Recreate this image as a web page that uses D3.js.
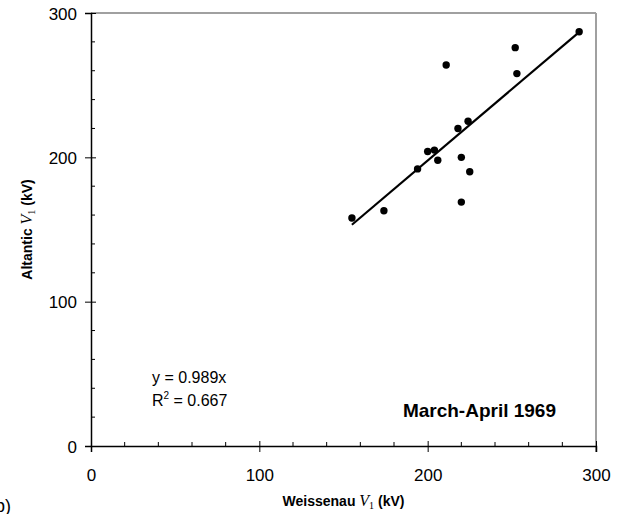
<!DOCTYPE html>
<html>
<head>
<meta charset="utf-8">
<script src="https://cdn.jsdelivr.net/npm/d3@7"></script>
<style>
  body { margin: 0; background: #fff; }
  svg { display: block; font-family: "Liberation Sans", Arial, sans-serif; }
</style>
</head>
<body>
<div id="chart"></div>
<script>
// Weissenau vs Atlantic V1, March-April 1969
const weissenau = [155, 174, 194, 200, 204, 206, 211, 218, 220, 220, 224, 225, 252, 253, 290];
const atlantic  = [158, 163, 192, 204, 205, 198, 264, 220, 200, 169, 225, 190, 276, 258, 287];
const slope = 0.989;
const rSquared = 0.667;
const tickValues = [0, 100, 200, 300];

const width = 628;
const height = 514;
const margin = { left: 91, right: 32, top: 13, bottom: 68 };

const svg = d3.select('#chart')
    .append('svg')
        .attr('width', width)
        .attr('height', height);

const x = d3.scaleLinear()
    .domain([0, 300])
    .range([margin.left, width - margin.right]);

const y = d3.scaleLinear()
    .domain([0, 300])
    .range([height - margin.bottom, margin.top]);

// grey frame on top and right
svg.append('line')
    .attr('x1', x(0)).attr('x2', x(300))
    .attr('y1', y(300)).attr('y2', y(300))
    .attr('stroke', '#a0a0a0').attr('stroke-width', 2);
svg.append('line')
    .attr('x1', x(300)).attr('x2', x(300))
    .attr('y1', y(300)).attr('y2', y(0) + 6)
    .attr('stroke', '#a0a0a0').attr('stroke-width', 2);

// minor ticks (inside)
const minor = d3.range(20, 300, 20).filter(v => v % 100 !== 0);
svg.selectAll('.minor-x')
    .data(minor)
    .join('line')
        .attr('x1', d => x(d)).attr('x2', d => x(d))
        .attr('y1', y(0)).attr('y2', y(0) - 4)
        .attr('stroke', '#000');
svg.selectAll('.minor-y')
    .data(minor)
    .join('line')
        .attr('x1', x(0)).attr('x2', x(0) + 4)
        .attr('y1', d => y(d)).attr('y2', d => y(d))
        .attr('stroke', '#000');

// axes with major ticks crossing the line
const xAxis = svg.append('g')
    .attr('transform', `translate(0,${y(0)})`)
    .call(d3.axisBottom(x).tickValues(tickValues).tickSize(6).tickPadding(17));
const yAxis = svg.append('g')
    .attr('transform', `translate(${x(0)},0)`)
    .call(d3.axisLeft(y).tickValues(tickValues).tickSize(6).tickPadding(8));

[xAxis, yAxis].forEach(g => {
    g.select('.domain').attr('stroke', '#000').attr('stroke-width', 1.5);
    g.selectAll('.tick line').attr('stroke', '#000');
    g.selectAll('.tick text')
        .attr('font-size', 17)
        .attr('font-family', '"Liberation Sans", Arial, sans-serif')
        .attr('fill', '#000');
});
xAxis.selectAll('.tick').append('line')
    .attr('y1', 0).attr('y2', -5).attr('stroke', '#000');
yAxis.selectAll('.tick').append('line')
    .attr('x1', 0).attr('x2', 5).attr('stroke', '#000');
yAxis.selectAll('.tick text').attr('dy', '0.36em');

// trend line through origin, over the range of the data
const xExtent = d3.extent(weissenau);
svg.append('line')
    .attr('x1', x(xExtent[0])).attr('y1', y(slope * xExtent[0]))
    .attr('x2', x(xExtent[1])).attr('y2', y(slope * xExtent[1]))
    .attr('stroke', '#000')
    .attr('stroke-width', 2.2);

// points
svg.selectAll('circle')
    .data(weissenau.map((w, i) => [w, atlantic[i]]))
    .join('circle')
        .attr('cx', d => x(d[0]))
        .attr('cy', d => y(d[1]))
        .attr('r', 3.7)
        .attr('fill', '#000');

// equation
svg.append('text')
    .attr('x', 152).attr('y', 383)
    .attr('font-size', 16)
    .text(`y = ${slope}x`);
const r2 = svg.append('text')
    .attr('x', 152).attr('y', 406)
    .attr('font-size', 16);
r2.append('tspan').text('R');
r2.append('tspan').attr('font-size', 10).attr('dy', -7).text('2');
r2.append('tspan').attr('dy', 7).text(` = ${rSquared}`);

svg.append('text')
    .attr('x', 556).attr('y', 417)
    .attr('text-anchor', 'end')
    .attr('font-size', 19)
    .attr('font-weight', 'bold')
    .text('March-April 1969');

// axis titles
function axisTitle(sel, name) {
    sel.attr('font-size', 14).attr('font-weight', 'bold');
    sel.append('tspan').text(name + ' ');
    sel.append('tspan')
        .attr('font-family', '"Liberation Serif", "Times New Roman", serif')
        .attr('font-style', 'italic').attr('font-weight', 'normal')
        .attr('font-size', 16).text('V');
    sel.append('tspan')
        .attr('font-family', '"Liberation Serif", "Times New Roman", serif')
        .attr('font-weight', 'normal').attr('font-size', 10)
        .attr('dy', 3).text('1');
    sel.append('tspan').attr('dy', -3).text(' (kV)');
}

svg.append('text')
    .attr('x', (x(0) + x(300)) / 2).attr('y', 506)
    .attr('text-anchor', 'middle')
    .call(axisTitle, 'Weissenau');

svg.append('text')
    .attr('transform', `translate(32,${(y(0) + y(300)) / 2}) rotate(-90)`)
    .attr('text-anchor', 'middle')
    .call(axisTitle, 'Altantic');

// panel label, cut by the edge as in the source figure
svg.append('text')
    .attr('x', 11).attr('y', 512)
    .attr('text-anchor', 'end')
    .attr('font-size', 18)
    .text('(b)');
</script>
</body>
</html>
